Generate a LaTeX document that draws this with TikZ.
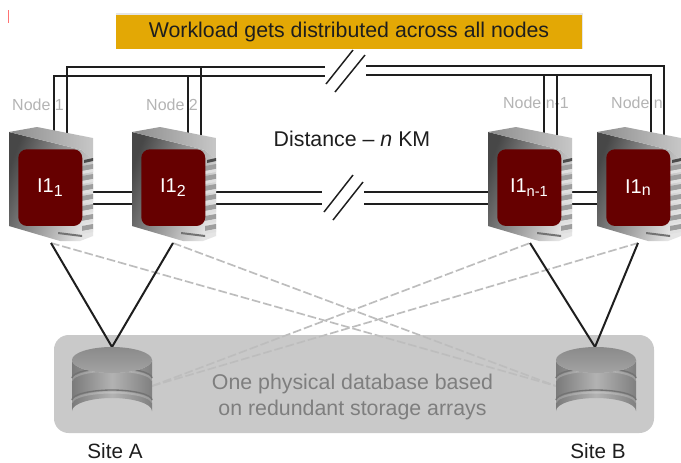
\documentclass[tikz,border=0pt]{standalone}
\usepackage{fontspec}
\setmainfont{Liberation Sans}
\definecolor{banner}{HTML}{E3A805}
\definecolor{panel}{HTML}{C9C9C9}
\definecolor{redbox}{HTML}{660000}
\definecolor{nodegray}{HTML}{B4B4B4}
\definecolor{dashgray}{HTML}{BDBDBD}
\definecolor{paneltext}{HTML}{7E7E7E}
\definecolor{ink}{HTML}{1E1E1E}
\tikzset{
  wire/.style={draw=ink,line width=1.5pt},
  thin wire/.style={draw=ink,line width=1.1pt},
  dashwire/.style={draw=dashgray,line width=1.25pt,dash pattern=on 6.5pt off 2.2pt},
  nodelabel/.style={text=nodegray,font=\fontsize{12}{14}\selectfont,inner sep=0pt},
  sitelabel/.style={text=ink,font=\fontsize{15.5}{18}\selectfont,inner sep=0pt},
  boxtext/.style={text=white,font=\fontsize{15}{17}\selectfont,inner sep=0pt},
  server/.pic={
    \shade[left color=black!72,right color=black!10,shading angle=70] (0,132) -- (73,150) -- (84,160) -- (84,236) -- (71,241) -- (51,241) -- (0,226) -- cycle;
    \shade[left color=black!45,right color=black!22] (0,132) -- (28,127) -- (84,138) -- (84,160) -- (73,150) -- cycle;
    \foreach \r in {166,176,186,196,206,216,226}{
      \fill[black!38] (73,\r) -- (84,\r-2) -- (84,\r+3) -- (73,\r+5) -- cycle;
      \fill[black!12] (73,\r+5) -- (84,\r+3) -- (84,\r+6) -- (73,\r+8) -- cycle;
    }
    \fill[black!70] (75,160) -- (84,158) -- (84,161) -- (75,163) -- cycle;
    \fill[black!55] (49,232) -- (73,235) -- (73,237) -- (49,234) -- cycle;
    \node[name=-box,fill=redbox,rounded corners=6.5pt,minimum width=48pt,minimum height=57.5pt,inner sep=0pt,anchor=north west] at (9,149) {};
  },
  dbcyl/.pic={
    \shade[left color=black!52,right color=black!50,middle color=black!30]
      (-40,360) -- (-40,411) arc[x radius=40,y radius=13,start angle=180,end angle=360] -- (40,360) arc[x radius=40,y radius=13,start angle=0,end angle=180] -- cycle;
    \foreach \q in {378,400}{
      \draw[white,opacity=.2,line width=1.5pt] (-40,\q+2.5) arc[x radius=40,y radius=10,start angle=180,end angle=360];
      \draw[black!55,line width=1pt] (-40,\q) arc[x radius=40,y radius=10,start angle=180,end angle=360];
    }
    \shade[top color=black!46,bottom color=black!36] (0,360) ellipse[x radius=40,y radius=13];
  }
}
\begin{document}
\begin{tikzpicture}[x=0.75pt,y=-0.75pt]
\useasboundingbox (0,0) rectangle (681,462);
\fill[white] (0,0) rectangle (681,462);
\fill[red!55!white] (8,10) rectangle (9,23);
% banner
\fill[black!10] (116,13) rectangle (583,49);
\node[fill=banner,minimum width=349pt,minimum height=25.5pt,inner sep=0pt,text=ink,font=\fontsize{16}{19}\selectfont] (banner) at (349,32) {Workload gets distributed across all nodes};
% panel
\node[fill=panel,rounded corners=11pt,minimum width=450pt,minimum height=73.5pt,inner sep=0pt] (panel) at (354,384) {};
% labels
\node[nodelabel] (n1) at (38,105) {Node 1};
\node[nodelabel] (n2) at (172,105) {Node 2};
\node[nodelabel] (n3) at (536,103) {Node n-1};
\node[nodelabel] (n4) at (637,103) {Node n};
\node[text=ink,font=\fontsize{16}{19}\selectfont,inner sep=0pt] (dist) at (352,139) {Distance – \textit{n} KM};
\node[text=paneltext,font=\fontsize{16}{19}\selectfont,inner sep=0pt,align=center] (phys) at (352.5,397) {One physical database based\\on redundant storage arrays};
\node[sitelabel] (siteA) at (115,451) {Site A};
\node[sitelabel] (siteB) at (598,451) {Site B};
% coordinates
\coordinate (s1a) at (54,133); \coordinate (s1b) at (67,136);
\coordinate (s2a) at (188,133); \coordinate (s2b) at (201,136);
\coordinate (s3a) at (544,133); \coordinate (s3b) at (557,136);
\coordinate (s4a) at (651,133); \coordinate (s4b) at (664,136);
\coordinate (tl1) at (325,67); \coordinate (tl2) at (325,76);
\coordinate (tr1) at (366,66); \coordinate (tr2) at (366,75);
\coordinate (ml1) at (322,192); \coordinate (ml2) at (322,204);
\coordinate (mr1) at (364,192); \coordinate (mr2) at (364,204);
\coordinate (s1m1) at (40,192); \coordinate (s1m2) at (40,204);
\coordinate (s4m1) at (640,192); \coordinate (s4m2) at (640,204);
\coordinate (sa1) at (326,84); \coordinate (sa2) at (353,50);
\coordinate (sb1) at (335,92); \coordinate (sb2) at (365,55);
\coordinate (sc1) at (324,212); \coordinate (sc2) at (353,175);
\coordinate (sd1) at (333,220); \coordinate (sd2) at (363,182);
\coordinate (b1) at (51,243); \coordinate (b2) at (173,243);
\coordinate (b3) at (530,243); \coordinate (b4) at (638,243);
\coordinate (dAt) at (112,347); \coordinate (dBt) at (595,347);
\coordinate (dAs) at (152,386); \coordinate (dBs) at (556,386);
% upper wires
\draw[wire] (s1b) |- (tl1);
\draw[wire] (s1a) |- (tl2);
\draw[wire] (s2a) -- (s2a |- tl2);
\draw[wire] (s2b) -- (s2b |- tl1);
\draw[wire] (s4b) |- (tr1);
\draw[wire] (s4a) |- (tr2);
\draw[wire] (s3a) -- (s3a |- tr2);
\draw[wire] (s3b) -- (s3b |- tr2);
% mid wires
\draw[wire] (s1m1) -- (ml1);
\draw[wire] (s1m2) -- (ml2);
\draw[wire] (mr1) -- (s4m1);
\draw[wire] (mr2) -- (s4m2);
% slashes
\draw[thin wire] (sa1) -- (sa2);
\draw[thin wire] (sb1) -- (sb2);
\draw[thin wire] (sc1) -- (sc2);
\draw[thin wire] (sd1) -- (sd2);
% dashed links
\draw[dashwire] (b1) -- (dBs);
\draw[dashwire] (b2) -- (dBs);
\draw[dashwire] (dAs) -- (b3);
\draw[dashwire] (dAs) -- (b4);
% database links
\draw[wire] (b1) -- (dAt);
\draw[wire] (b2) -- (dAt);
\draw[wire] (b3) -- (dBt);
\draw[wire] (b4) -- (dBt);
% databases
\pic (dbA) at (112,0) {dbcyl};
\pic (dbB) at (596,0) {dbcyl};
% servers
\pic (s1) at (9,0) {server};
\pic (s2) at (132,0) {server};
\pic (s3) at (488,0) {server};
\pic (s4) at (597,0) {server};
\node[boxtext] (t1) at (s1-box) {I1\textsubscript{\fontsize{12}{13}\selectfont 1}};
\node[boxtext] (t2) at (s2-box) {I1\textsubscript{\fontsize{12}{13}\selectfont 2}};
\node[boxtext] (t3) at (s3-box) {I1\textsubscript{\fontsize{11}{12}\selectfont n-1}};
\node[boxtext] (t4) at (s4-box) {I1\textsubscript{\fontsize{12}{13}\selectfont n}};
\end{tikzpicture}
\end{document}
